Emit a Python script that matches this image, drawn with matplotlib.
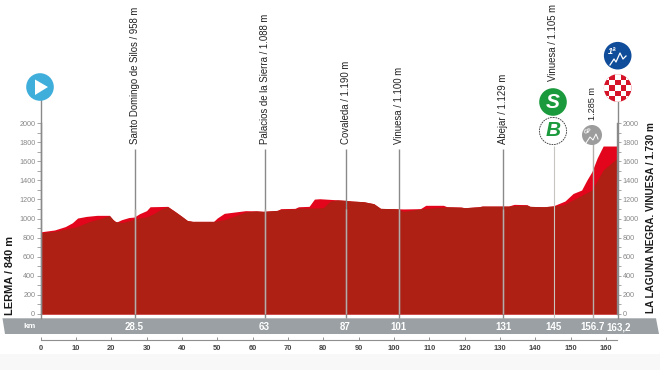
import matplotlib
matplotlib.use("Agg")
import matplotlib.pyplot as plt
from matplotlib.patches import Circle, Polygon, Rectangle

# ---------- data ----------
top_km = [0, 4, 7, 9, 10.5, 13, 16, 19.5, 20.5, 21.5, 23, 25, 26.5, 28, 30, 31, 36, 38, 40, 41.5, 43, 49, 50, 52, 55, 58,
          61, 63, 67, 68, 72, 73, 76, 77.5, 79, 82, 86.3, 88, 91.4, 94.3, 96.2, 100.9, 102.8, 107.5, 109, 114, 115,
          119, 120, 124, 125, 132.4, 134, 137.6, 138.5, 142.4, 145, 148.4, 150.7, 153.1, 154.6, 156, 157.5, 159.2, 163.2]
top_elev = [860, 880, 915, 955, 1005, 1022, 1033, 1033, 988, 963, 988, 1010, 1015, 1050, 1082, 1123, 1127, 1075, 1022, 980,
            970, 970, 1005, 1054, 1068, 1082, 1080, 1075, 1085, 1103, 1106, 1123, 1127, 1203, 1207, 1200, 1190, 1183, 1176,
            1155, 1106, 1102, 1100, 1103, 1138, 1138, 1123, 1120, 1113, 1123, 1130, 1130, 1148, 1145, 1127, 1123, 1131, 1183,
            1262, 1298, 1403, 1490, 1633, 1759, 1759]
base_km = [0, 4, 7, 10, 12, 14, 17, 19.5, 21, 23, 25, 27, 30, 32, 34, 36, 38, 40, 41.5, 43, 49, 52, 55, 58, 61, 63, 67, 68,
           72, 73, 77.5, 80, 82, 84, 86.3, 88, 91.4, 94.3, 96.2, 100.9, 102.8, 108, 113, 115, 119, 120, 124, 125, 132.4,
           134, 137.6, 138.5, 142.4, 147.8, 151.7, 156, 159.2, 163.2]
base_elev = [850, 866, 890, 911, 940, 970, 1000, 1030, 970, 957, 975, 1000, 1017, 1050, 1096, 1123, 1075, 1022, 980, 970, 970,
             988, 1026, 1068, 1080, 1075, 1085, 1095, 1100, 1110, 1110, 1113, 1183, 1195, 1190, 1183, 1176, 1155, 1106, 1102,
             1075, 1103, 1115, 1123, 1118, 1113, 1123, 1130, 1130, 1135, 1140, 1127, 1123, 1141, 1215, 1298, 1508, 1633]
pass_km = [26.6, 63.4, 86.3, 101.3, 131]
pass_names = ["Santo Domingo de Silos / 958 m", "Palacios de la Sierra / 1.088 m", "Covaleda / 1.190 m",
              "Vinuesa / 1.100 m", "Abejar / 1.129 m"]
km_labels = ["28.5", "63", "87", "101", "131", "145", "156.7", "163,2"]
km_label_pos = [26.6, 63.4, 86.3, 101.3, 131, 145.2, 156.2, 163.6]
sprint_km = 145.2
gp_km = 156.2
x_ticks = list(range(0, 170, 10))
y_major = list(range(0, 2200, 200))
y_minor = list(range(100, 2000, 200))

SANS = ["Liberation Sans", "DejaVu Sans"]
DARK, BRIGHT = "#AE1F14", "#E3051B"
GREY_LINE = "#8A8A8A"
W, H = 660, 370

fig = plt.figure(figsize=(W / 100, H / 100), dpi=100, facecolor="white")
X0, X1, Y0, Y1 = 40.5, 617.3, 314, 123
ax = fig.add_axes([X0 / W, 1 - Y0 / H, (X1 - X0) / W, (Y0 - Y1) / H], zorder=2)
ax.patch.set_alpha(0)
ax.set_xlim(0, 163.2)
ax.set_ylim(0, 2000)

ax.fill_between(top_km, top_elev, 0, color=BRIGHT, lw=0, zorder=1)
ax.fill_between(base_km, base_elev, 0, color=DARK, lw=0, zorder=2)

for k, name in zip(pass_km, pass_names):
    ax.vlines(k, -40, 1730, color=GREY_LINE, lw=1, zorder=3, clip_on=False)
    ax.vlines(k, 0, 1100, color="#B5ACA8", lw=1, zorder=3)
    ax.text(k, 1785, name, rotation=90, ha="center", va="bottom", fontsize=6.9, family=SANS,
            color="#222222", clip_on=False)
ax.vlines(sprint_km, -40, 1760, color="#C9C6C2", lw=0.8, zorder=3, clip_on=False)
ax.vlines(gp_km, -40, 1850, color="#B5B0AC", lw=1, zorder=3, clip_on=False)
ax.text(sprint_km - 0.1, 2440, "Vinuesa / 1.105 m", rotation=90, ha="center", va="bottom", fontsize=6.9, family=SANS,
        color="#222222", clip_on=False)
ax.text(gp_km, 2030, "1.285 m", rotation=90, ha="center", va="bottom", fontsize=6.6, family=SANS,
        color="#222222", clip_on=False)

ax.spines["top"].set_visible(False)
for s in ("left", "right"):
    ax.spines[s].set_color(GREY_LINE)
    ax.spines[s].set_linewidth(1)
ax.spines["bottom"].set_position(("outward", 26 * 0.72))
ax.spines["bottom"].set_color("#8f8f8f")
ax.spines["bottom"].set_linewidth(0.8)
ax.set_xticks(x_ticks)
ax.set_xticklabels([str(v) for v in x_ticks], family=SANS, fontsize=5.4, color="#444444", fontweight="bold")
ax.tick_params(axis="x", direction="in", length=2.2, width=0.7, color="#8f8f8f", pad=3.4)
ax.set_yticks(y_major)
ax.set_yticks(y_minor, minor=True)
ax.set_yticklabels([str(v) for v in y_major], family=SANS, fontsize=5.2, color="#888888")
ax.tick_params(axis="y", which="both", direction="out", length=2.6, width=0.6, color="#999999", pad=1.2)
right = ax.secondary_yaxis("right")
right.set_yticks(y_major)
right.set_yticks(y_minor, minor=True)
right.set_yticklabels([str(v) for v in y_major], family=SANS, fontsize=5.2, color="#888888")
right.tick_params(axis="y", which="both", direction="out", length=2.6, width=0.6, color="#999999", pad=1.2)
right.spines["right"].set_visible(False)

# overlay in pixel units for the band and icons
dx = fig.add_axes([0, 0, 1, 1], zorder=1)
dx.set_xlim(0, W); dx.set_ylim(H, 0); dx.axis("off")
over = fig.add_axes([0, 0, 1, 1], zorder=3)
over.set_xlim(0, W); over.set_ylim(H, 0); over.axis("off"); over.patch.set_alpha(0)

dx.add_patch(Rectangle((0, 354), W, 16, color="#F8F8F8", lw=0))
dx.add_patch(Polygon([(2.5, 318.3), (656, 318.3), (659, 334), (5, 334)], closed=True, color="#9AA0A3", lw=0))

for lab, k in zip(km_labels, km_label_pos):
    ax.text(k, -172, lab, ha="center", va="baseline", family=SANS, fontsize=7, color="white",
            fontweight="bold", clip_on=False, zorder=6)
over.text(29, 326.5, "km", ha="center", va="center", family=SANS, fontsize=6, color="white", fontweight="bold")

over.text(10.3, 275.5, "LERMA / 840 m", rotation=90, ha="center", va="center", family=SANS, fontsize=7.9,
          color="#1a1a1a", fontweight="bold")
over.text(650.7, 218, "LA LAGUNA NEGRA. VINUESA / 1.730 m", rotation=90, ha="center", va="center", family=SANS,
          fontsize=7.2, color="#1a1a1a", fontweight="bold")

# axis extensions
over.plot([40.5, 40.5], [100, 318], color=GREY_LINE, lw=1, zorder=0)
over.plot([617.5, 617.5], [100, 318], color=GREY_LINE, lw=1, zorder=0)

# start icon
over.add_patch(Circle((40, 87), 13.8, color="#3FAEDB", lw=0))
over.add_patch(Polygon([(35, 79.5), (35, 95), (48, 87)], closed=True, color="white", lw=0))

# sprint icon
over.add_patch(Circle((553, 102), 13.8, color="#1A9A3C", lw=0))
over.text(553, 102, "S", ha="center", va="center", family=SANS, fontsize=15, fontweight="bold", style="italic", color="white")
# bonus icon
over.add_patch(Circle((553, 131), 13.6, facecolor="white", edgecolor="#333333", lw=0.6, ls=(0, (2, 1))))
over.text(553, 131, "B", ha="center", va="center", family=SANS, fontsize=15, fontweight="bold", style="italic", color="#1A9A3C")

# intermediate climb icon
over.add_patch(Circle((592, 135), 10, color="#9C9C9C", lw=0))
over.text(588, 131, "GP", ha="center", va="center", family=SANS, fontsize=4, color="white", fontweight="bold", rotation=20)
over.plot([586, 590, 593, 596, 598], [143, 137, 140, 134, 139], color="white", lw=0.7)

# finish checker
cx, cy, rad = 617.7, 88, 13.8
base = Circle((cx, cy), rad, color="#D5142A", lw=0)
over.add_patch(base)
cell = 5.6
for i in range(-2, 3):
    for j in range(-2, 3):
        if (i + j) % 2 == 0:
            r = Rectangle((cx + (i - 0.5) * cell, cy + (j - 0.5) * cell), cell, cell, color="white", lw=0)
            over.add_patch(r)
            r.set_clip_path(base)

# category climb icon
over.add_patch(Circle((617.7, 55.7), 13.8, color="#0F4C9A", lw=0))
over.text(612, 51, "1ª", ha="center", va="center", family=SANS, fontsize=6.5, fontweight="bold", style="italic", color="white")
over.plot([610, 614, 616, 620, 623, 626], [65, 59, 62, 53, 59, 56], color="white", lw=0.9)

fig.savefig("out.png", dpi=100, facecolor="white")
